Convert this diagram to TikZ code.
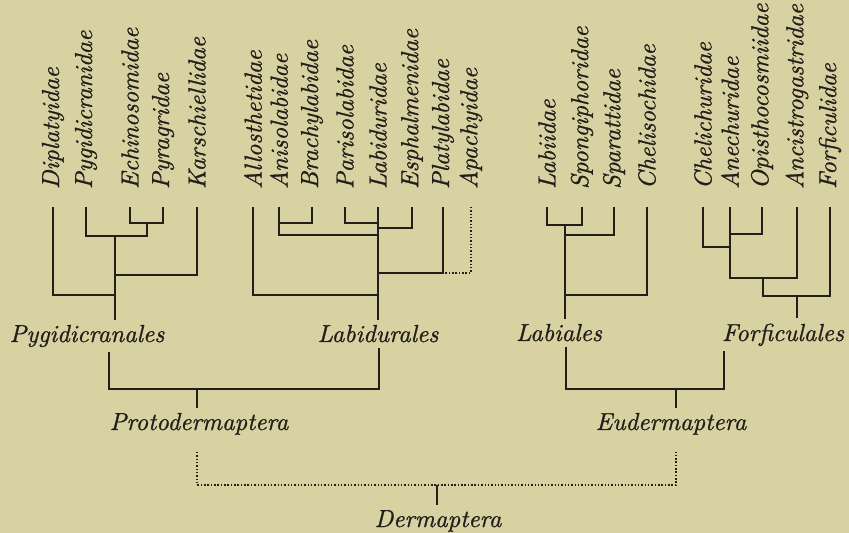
\documentclass[tikz,border=0pt]{standalone}
\usepackage{fontspec}
\usepackage{xcolor}
\usepackage{tikz}
\newfontface\dmitalic{lmroman10-italic.otf}[FakeBold=0.9]
\definecolor{dmpaper}{HTML}{D8D2A2}
\definecolor{dmink}{HTML}{221E19}

\begin{document}
\begin{tikzpicture}[x=0.02cm, y=-0.02cm,
  leaf/.style={rotate=90, anchor=west, inner sep=0pt, outer sep=0.36cm, text=dmink, font=\fontsize{14}{16}\dmitalic},
  taxon/.style={anchor=base, inner sep=1pt, outer sep=2pt, text=dmink, font=\fontsize{14}{16}\dmitalic},
  br/.style={draw=dmink, line width=0.8pt},
  dots/.style={br, dash pattern=on 0.8pt off 1.1pt}]
  \useasboundingbox (0,0) rectangle (849,533);
  \fill[dmpaper] (0,0) rectangle (849,533);

  \node[leaf] (diplat) at (53,207) {Diplatyidae};
  \node[leaf] (pygidi) at (86,207) {Pygidicranidae};
  \node[leaf] (echino) at (130,207) {Echinosomidae};
  \node[leaf] (pyragr) at (163,207) {Pyragridae};
  \node[leaf] (karsch) at (197,207) {Karschiellidae};
  \node[leaf] (allost) at (253,207) {Allosthetidae};
  \node[leaf] (anisol) at (279,207) {Anisolabidae};
  \node[leaf] (brachy) at (312,207) {Brachylabidae};
  \node[leaf] (pariso) at (345,207) {Parisolabidae};
  \node[leaf] (labidu) at (378,207) {Labiduridae};
  \node[leaf] (esphal) at (412,207) {Esphalmenidae};
  \node[leaf] (platyl) at (443,207) {Platylabidae};
  \node[leaf] (apachy) at (471,207) {Apachyidae};
  \node[leaf] (labiid) at (547,207) {Labiidae};
  \node[leaf] (spongi) at (582,207) {Spongiphoridae};
  \node[leaf] (sparat) at (614,207) {Sparattidae};
  \node[leaf] (chelis) at (647,207) {Chelisochidae};
  \node[leaf] (chelic) at (703,207) {Chelichuridae};
  \node[leaf] (anechu) at (730,207) {Anechuridae};
  \node[leaf] (opisth) at (762,207) {Opisthocosmiidae};
  \node[leaf] (ancist) at (797,207) {Ancistrogastridae};
  \node[leaf] (forfic) at (830,207) {Forficulidae};

  \node[taxon] (pygidicranales) at (87,342) {Pygidicranales};
  \node[taxon] (labidurales) at (378,342) {Labidurales};
  \node[taxon] (labiales) at (559,341) {Labiales};
  \node[taxon] (forficulales) at (783,341) {Forficulales};
  \node[taxon] (protodermaptera) at (199,430) {Protodermaptera};
  \node[taxon] (eudermaptera) at (671,430) {Eudermaptera};
  \node[taxon] (dermaptera) at (438,527) {Dermaptera};

  \coordinate (p1) at (147,223);
  \coordinate (p2) at (115,236);
  \coordinate (p3) at (115,275);
  \coordinate (p4) at (115,295);
  \draw[br] (echino.west) |- (p1) -| (pyragr.west);
  \draw[br] (pygidi.west) |- (p1 |- p2) -- (p1);
  \draw[br] (karsch.west) |- (p3);
  \draw[br] (diplat.west) |- (p4);
  \draw[br] (p2) -- (p2 |- pygidicranales.north);

  \coordinate (l1) at (279,223);
  \coordinate (l2) at (378,235);
  \coordinate (l3) at (378,223);
  \coordinate (l4) at (378,228);
  \coordinate (l5) at (378,273);
  \coordinate (l6) at (378,295);
  \draw[br] (brachy.west) |- (l1);
  \draw[br] (anisol.west) |- (l2);
  \draw[br] (pariso.west) |- (l3);
  \draw[br] (esphal.west) |- (l4);
  \draw[br] (platyl.west) |- (l5);
  \draw[dots] (apachy.west) |- (platyl.west |- l5);
  \draw[br] (allost.west) |- (l6);
  \draw[br] (labidu.west) -- (labidu.west |- labidurales.north);

  \coordinate (b1) at (565,225);
  \coordinate (b2) at (565,235);
  \coordinate (b3) at (565,295);
  \draw[br] (labiid.west) |- (b1) -| (spongi.west);
  \draw[br] (sparat.west) |- (b2);
  \draw[br] (chelis.west) |- (b3);
  \draw[br] (b1) -- (b1 |- labiales.north);

  \coordinate (f1) at (730,247);
  \coordinate (f2) at (730,234);
  \coordinate (f3) at (763,278);
  \coordinate (f4) at (797,296);
  \draw[br] (chelic.west) |- (f1);
  \draw[br] (opisth.west) |- (f2);
  \draw[br] (anechu.west) |- (f3) -| (ancist.west);
  \draw[br] (f3) |- (f4) -| (forfic.west);
  \draw[br] (f4) -- (f4 |- forficulales.north);

  \coordinate (o1) at (109,389);
  \coordinate (o2) at (379,389);
  \coordinate (o3) at (197,389);
  \draw[br] (o1 |- pygidicranales.south) -- (o1) -- (o2) -- (o2 |- labidurales.south);
  \draw[br] (o3) -- (o3 |- protodermaptera.north);

  \coordinate (e1) at (566,389);
  \coordinate (e2) at (724,389);
  \coordinate (e3) at (676,389);
  \draw[br] (e1 |- labiales.south) -- (e1) -- (e2) -- (e2 |- forficulales.south);
  \draw[br] (e3) -- (e3 |- eudermaptera.north);

  \coordinate (d1) at (197,485);
  \coordinate (d2) at (676,485);
  \coordinate (d3) at (437,485);
  \draw[dots, shorten <=0.24cm, shorten >=0.24cm] (d1 |- protodermaptera.south) -- (d1) -- (d2) -- (d2 |- eudermaptera.south);
  \draw[br] (d3) -- (d3 |- dermaptera.north);
\end{tikzpicture}
\end{document}
